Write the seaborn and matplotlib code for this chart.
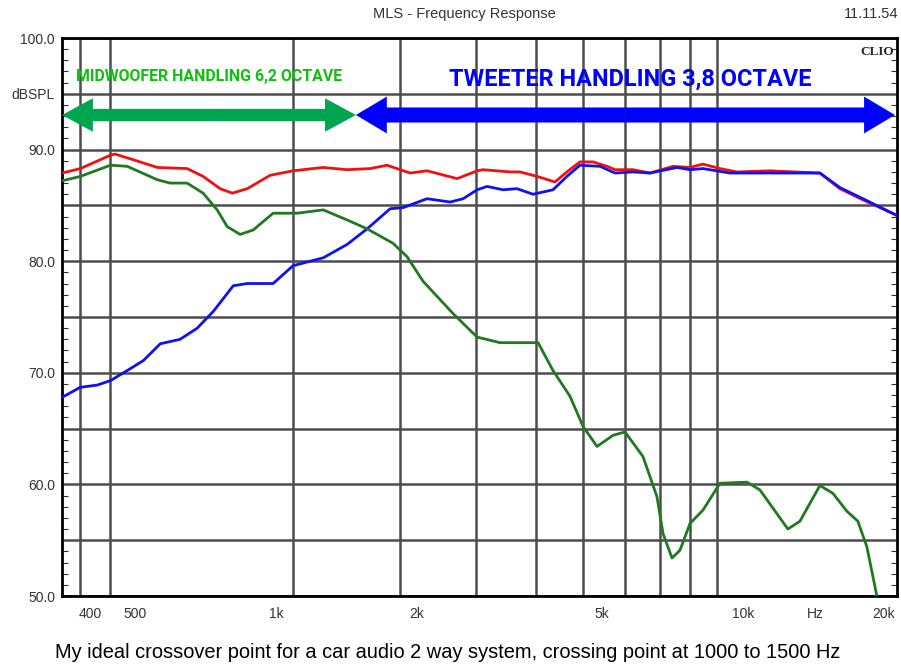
import matplotlib
matplotlib.use("Agg")
import matplotlib.pyplot as plt
import matplotlib.patches as mpatches
import pandas as pd
import seaborn as sns

# Data (frequency in Hz, level in dB SPL)
red_freq = [348, 381, 442, 452, 494, 557, 645, 698, 759, 806, 868, 972, 1088, 1262, 1420, 1591,
            1730, 1938, 2107, 2444, 2697, 2777, 3172, 3332, 3625, 3960, 4200, 4480, 4777, 5121,
            5325, 5817, 6328, 7088, 7709, 8218, 8935, 9717, 11433, 14630, 16145, 18085, 21392]
red_db = [87.9, 88.3, 89.5, 89.6, 89.1, 88.4, 88.3, 87.6, 86.5, 86.1, 86.5, 87.7, 88.1, 88.4, 88.2, 88.3,
          88.6, 87.9, 88.1, 87.4, 88.1, 88.2, 88.0, 88.0, 87.6, 87.1, 88.0, 88.9, 88.9, 88.5,
          88.2, 88.2, 87.9, 88.5, 88.4, 88.7, 88.3, 88.0, 88.1, 87.9, 86.5, 85.5, 84.1]

blue_freq = [348, 381, 414, 442, 480, 520, 565, 623, 678, 734, 810, 868, 986, 1088, 1262, 1420,
             1568, 1756, 1872, 2107, 2361, 2517, 2697, 2833, 3064, 3283, 3554, 3922, 4200, 4480,
             4947, 5325, 5817, 6328, 7228, 7709, 8218, 9389, 10512, 14630, 16145, 18085, 21392]
blue_db = [67.8, 68.7, 68.9, 69.3, 70.2, 71.1, 72.6, 73.0, 74.0, 75.5, 77.8, 78.0, 78.0, 79.6, 80.3, 81.5,
           82.9, 84.7, 84.8, 85.6, 85.3, 85.6, 86.4, 86.7, 86.4, 86.5, 86.0, 86.4, 87.6, 88.6,
           88.5, 87.9, 88.0, 87.9, 88.4, 88.2, 88.3, 87.9, 87.9, 87.9, 86.6, 85.6, 84.1]

green_freq = [348, 381, 442, 480, 557, 593, 645, 698, 748, 786, 838, 894, 986, 1110, 1262, 1420,
              1568, 1782, 1909, 2066, 2396, 2697, 3019, 3643, 3922, 4264, 4547, 4873, 5273, 5593,
              6112, 6549, 6747, 7053, 7336, 7709, 8218, 8935, 10208, 10885, 12492, 13256, 14630,
              15597, 16713, 17643, 18447, 19377, 19700]
green_db = [87.2, 87.6, 88.6, 88.5, 87.3, 87.0, 87.0, 86.1, 84.6, 83.1, 82.4, 82.8, 84.3, 84.3, 84.6, 83.7,
            82.9, 81.6, 80.4, 78.2, 75.3, 73.2, 72.7, 72.7, 70.2, 67.9, 65.2, 63.4, 64.4, 64.7,
            62.5, 58.9, 55.6, 53.4, 54.1, 56.5, 57.7, 60.1, 60.2, 59.5, 56.0, 56.7, 59.9,
            59.2, 57.6, 56.7, 54.4, 50.0, 48.6]

x_ticks = [400, 500, 1000, 2000, 5000, 10000, 14300, 20000]
x_tick_labels = ["400", "500", "1k", "2k", "5k", "10k", "Hz", "20k"]
x_grid = [381, 440, 1090, 1840, 2680, 3610, 4550, 5590, 6650, 7710, 8800]
y_ticks = [50, 55, 60, 65, 70, 75, 80, 85, 90, 95, 100]
y_tick_labels = ["50.0", "", "60.0", "", "70.0", "", "80.0", "", "90.0", "dBSPL", "100.0"]

sns.set_style("white")
plt.rcParams['font.family'] = ['Liberation Sans', 'DejaVu Sans']

fig = plt.figure(figsize=(9.01, 6.68), dpi=100)
ax = fig.add_axes([62 / 901, 72 / 668, 835 / 901, 558 / 668])

curves = [(red_freq, red_db, "#f01010"), (blue_freq, blue_db, "#1010f5"), (green_freq, green_db, "#1f7a1f")]
for f, db, c in curves:
    d = pd.DataFrame({"freq": f, "db": db})
    sns.lineplot(data=d, x="freq", y="db", ax=ax, color=c, lw=2.0, zorder=3)

ax.set_xscale("log")
ax.set_xlim(348, 21400)
ax.set_ylim(50, 100)
ax.set_xlabel("")
ax.set_ylabel("")

ax.set_xticks(x_ticks, labels=x_tick_labels)
ax.set_xticks(x_grid, minor=True)
ax.set_xticklabels([], minor=True)
ax.tick_params(axis="x", which="both", length=0, pad=8, labelsize=10, labelcolor="#333333")
ax.grid(which="minor", axis="x", color="#4d4d4d", lw=1.8)

ax.set_yticks(y_ticks, labels=y_tick_labels)
ax.set_yticks(range(50, 101), minor=True)
ax.tick_params(axis="y", which="major", length=0, pad=5, labelsize=10, labelcolor="#333333")
ax.tick_params(axis="y", which="minor", direction="in", length=4, width=0.8, left=True, right=True,
               color="#333333")
ax.grid(which="major", axis="y", color="#4d4d4d", lw=1.8)

for s in ax.spines.values():
    s.set_visible(True)
    s.set_color("black")
    s.set_linewidth(2)

# arrows
def double_arrow(x0, x1, y, width, head_w, head_l, color):
    mid = (x0 + x1) / 2
    for end in (x0, x1):
        ax.add_patch(mpatches.FancyArrow(mid, y, end - mid, 0, width=width, head_width=head_w,
                                         head_length=head_l, length_includes_head=True,
                                         transform=ax.transAxes, color=color, lw=0, zorder=4))

double_arrow(0.0, 0.352, 0.862, 0.022, 0.060, 0.037, "#00a550")
double_arrow(0.352, 0.9976, 0.862, 0.027, 0.066, 0.037, "#0000ff")

banner_font = ["Roboto", "DejaVu Sans"]
ax.text(0.176, 0.931, "MIDWOOFER HANDLING 6,2 OCTAVE", transform=ax.transAxes, ha="center",
        va="center", color="#10c010", fontsize=11.4, fontweight="bold", family=banner_font)
ax.text(0.680, 0.926, "TWEETER HANDLING 3,8 OCTAVE", transform=ax.transAxes, ha="center",
        va="center", color="#0000ff", fontsize=16.9, fontweight="bold", family=banner_font)
ax.text(0.996, 0.985, "CLIO", transform=ax.transAxes, ha="right", va="top",
        family=["Liberation Serif", "DejaVu Serif"], fontweight="bold", fontsize=9.5)

fig.text(464 / 901, 1 - 14 / 668, "MLS - Frequency Response", ha="center", va="center",
         fontsize=10.5, color="#333333")
fig.text(898 / 901, 1 - 14 / 668, "11.11.54", ha="right", va="center", fontsize=10.5, color="#333333")
fig.text(448 / 901, 1 - 653 / 668,
         "My ideal crossover point for a car audio 2 way system, crossing point at 1000 to 1500 Hz",
         ha="center", va="center", fontsize=14.4, color="black")

fig.savefig("out.png", dpi=100)
